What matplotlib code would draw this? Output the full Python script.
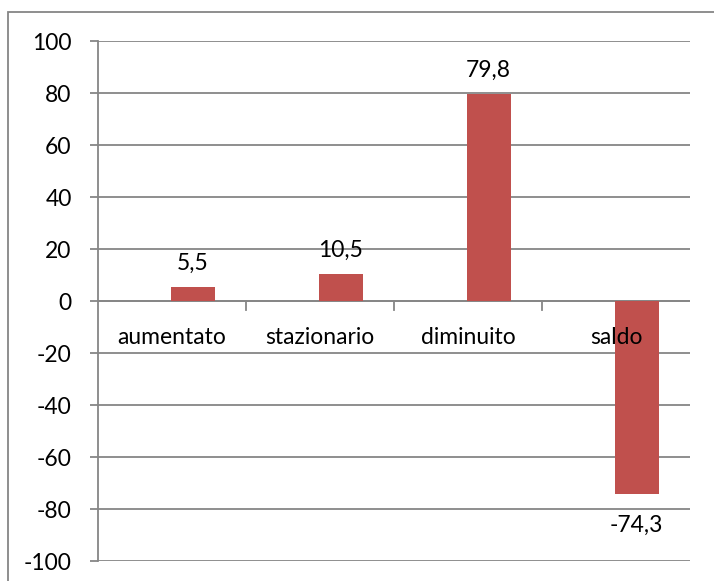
import numpy as np
import matplotlib
matplotlib.use("Agg")
import matplotlib.pyplot as plt
from matplotlib.patches import Rectangle

# ---- data ----
categories = ["aumentato", "stazionario", "diminuito", "saldo"]
values = [5.5, 10.5, 79.8, -74.3]
value_labels = ["5,5", "10,5", "79,8", "-74,3"]
y_ticks = [100, 80, 60, 40, 20, 0, -20, -40, -60, -80, -100]

BAR_COLOR = "#C0504D"
GRID_COLOR = "#868686"
FONT = "Lato"
FS = 16.5

plt.rcParams["font.family"] = [FONT, "DejaVu Sans"]

W, H = 714, 581
fig = plt.figure(figsize=(W / 100, H / 100), dpi=100)

# outer chart border (runs off the right and bottom edges)
fig.patches.append(Rectangle((8 / W, -0.05), 1.1, 1 - 12 / H + 0.05,
                             transform=fig.transFigure, fill=False,
                             edgecolor=GRID_COLOR, linewidth=1.3))

left, right, top, bottom = 98, 690, 41, 561
ax = fig.add_axes([left / W, 1 - bottom / H, (right - left) / W, (bottom - top) / H])

x = np.arange(len(categories))
# bar sits right of the category centre
ax.bar(x + 0.14, values, width=0.3, color=BAR_COLOR, zorder=3)

ax.set_xlim(-0.5, len(categories) - 0.5)
ax.set_ylim(-100, 100)
ax.set_yticks(y_ticks)
ax.set_yticklabels([str(v) for v in y_ticks], fontsize=FS)
ax.tick_params(axis="y", length=6, width=1.3, color=GRID_COLOR, pad=13)
ax.yaxis.grid(True, color=GRID_COLOR, linewidth=1.3, zorder=0)
ax.set_xticks([])

for s in ["top", "right", "bottom"]:
    ax.spines[s].set_visible(False)
ax.spines["left"].set_color(GRID_COLOR)
ax.spines["left"].set_linewidth(1.3)

# category axis at zero with boundary ticks
ax.axhline(0, color=GRID_COLOR, linewidth=1.3, zorder=2)
for b in np.arange(0.5, len(categories) - 0.5, 1.0):
    ax.plot([b, b], [0, -3.5], color=GRID_COLOR, linewidth=1.3, zorder=2, clip_on=False)

for xi, name in zip(x, categories):
    ax.annotate(name, (xi, 0), xytext=(0, -36 * 0.72), textcoords="offset points",
                ha="center", va="center", fontsize=FS, zorder=4)

for xi, v, lab in zip(x, values, value_labels):
    off = 23 if v >= 0 else -31
    ax.annotate(lab, (xi + 0.14, v), xytext=(0, off * 0.72), textcoords="offset points",
                ha="center", va="center", fontsize=FS, zorder=4)

fig.savefig("out.png", dpi=100)
